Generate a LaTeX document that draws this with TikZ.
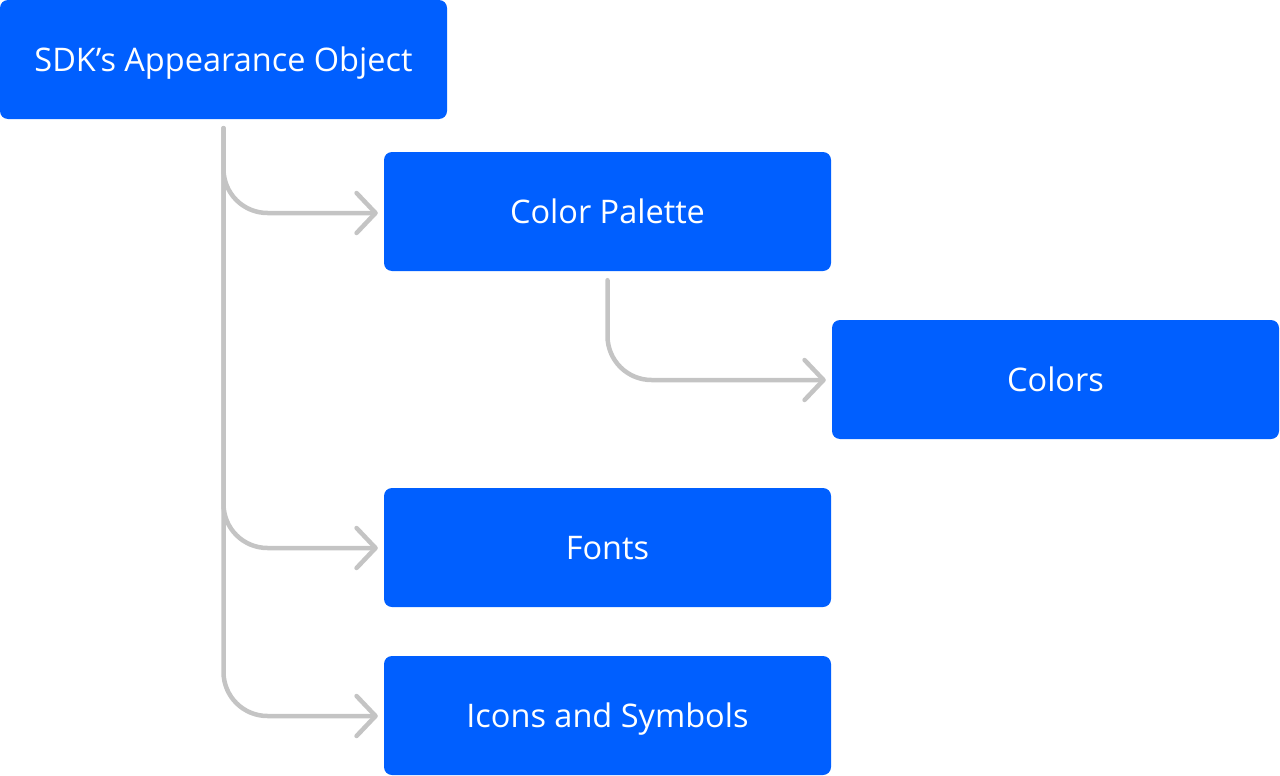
\documentclass[tikz,border=0pt]{standalone}
\usepackage{fontspec}
\setmainfont{Open Sans}
\usetikzlibrary{arrows.meta}
\definecolor{boxblue}{HTML}{005FFF}
\definecolor{conngray}{HTML}{C4C4C4}
\tikzset{
  box/.style={fill=boxblue, rounded corners=8pt, minimum width=447pt, minimum height=119pt, inner sep=0pt, text=white, font=\fontsize{32.5}{38}\selectfont, text height=23.5pt, text depth=0pt},
  conn/.style={draw=conngray, line width=4.5pt, line cap=round, rounded corners=44pt, -{Straight Barb[length=19pt,width=40pt,round]}}
}
\begin{document}
\begin{tikzpicture}[x=1pt,y=-1pt]
\useasboundingbox (0,0) rectangle (1280,776);
\node[box] (sdk) at (223.5,59.5) {SDK’s Appearance Object};
\node[box] (cp) at (607.5,211.5) {Color Palette};
\node[box] (col) at (1055.5,379.5) {Colors};
\node[box] (fon) at (607.5,547.5) {Fonts};
\node[box] (ico) at (607.5,715.5) {Icons and Symbols};
\coordinate (t0) at ([yshift=-9pt]sdk.south);
\draw[conn] (t0) |- ([xshift=-6pt,yshift=-1.5pt]cp.west);
\draw[conn] (t0) |- ([xshift=-6pt,yshift=-0.5pt]fon.west);
\draw[conn] (t0) |- ([xshift=-6pt,yshift=-0.5pt]ico.west);
\draw[conn] ([yshift=-9pt]cp.south) |- ([xshift=-6pt,yshift=-0.5pt]col.west);
\end{tikzpicture}
\end{document}
